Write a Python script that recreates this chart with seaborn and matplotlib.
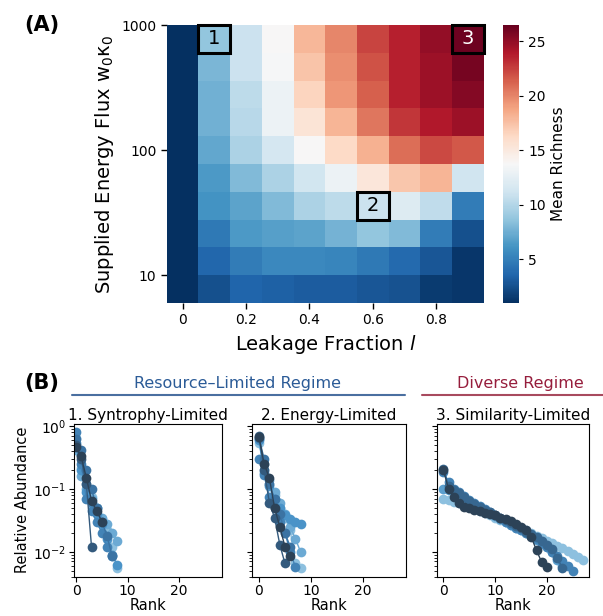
import numpy as np
import matplotlib
matplotlib.use("Agg")
import matplotlib.pyplot as plt
from matplotlib.patches import Rectangle
from matplotlib.lines import Line2D
import pandas as pd
import seaborn as sns

sns.set_style("ticks")
plt.rcParams['font.family'] = ['DejaVu Sans']
plt.rcParams['text.color'] = 'black'
plt.rcParams['axes.labelcolor'] = 'black'
plt.rcParams['xtick.color'] = 'black'
plt.rcParams['ytick.color'] = 'black'
plt.rcParams['axes.edgecolor'] = 'black'

##################################################################
# (A) mean richness over leakage fraction x supplied energy flux
leakage = [0.0, 0.1, 0.2, 0.3, 0.4, 0.5, 0.6, 0.7, 0.8, 0.9]
# row centres, top row first
flux = [774, 464, 278, 167, 100, 59.9, 35.9, 21.5, 12.9, 7.74]
richness = [
    [1, 8.7, 11.0, 13.8, 18.0, 20.0, 22.4, 23.7, 25.0, 26.3],
    [1, 7.9, 11.0, 13.6, 17.4, 19.7, 21.9, 23.7, 24.7, 26.0],
    [1, 7.6, 10.4, 13.0, 16.6, 19.4, 21.4, 23.7, 24.7, 25.5],
    [1, 7.6, 10.2, 13.0, 15.5, 18.1, 20.6, 22.9, 24.0, 24.7],
    [1, 7.1, 9.7, 11.5, 13.8, 16.3, 18.3, 20.9, 22.2, 21.7],
    [1, 6.4, 8.1, 9.7, 11.3, 13.0, 15.3, 17.3, 18.1, 11.2],
    [1, 6.1, 6.9, 8.1, 9.7, 10.4, 11.0, 12.0, 10.5, 4.8],
    [1, 4.6, 6.4, 6.7, 6.9, 7.7, 8.7, 8.1, 4.8, 2.5],
    [1, 3.6, 4.8, 5.5, 5.5, 5.3, 4.6, 3.8, 2.8, 1.3],
    [1, 2.5, 3.5, 3.3, 3.1, 3.1, 2.8, 2.6, 1.5, 1.3],
]
flux_ticks = [1000, 100, 10]
leak_ticks = [0.0, 0.2, 0.4, 0.6, 0.8]
leak_ticklabels = ['0', '0.2', '0.4', '0.6', '0.8']

# highlighted regimes: (label, flux row, leakage column)
regime_labels = ['1', '2', '3']
regime_rows = [0, 6, 0]
regime_cols = [1, 6, 9]
regime_text_colors = ['black', 'black', 'white']

# (B) rank abundance curves, darkest curve first
syntrophy_curves = [
    [0.47, 0.33, 0.15, 0.065, 0.045, 0.03],
    [0.5, 0.3, 0.12, 0.012],
    [0.62, 0.42, 0.2, 0.1, 0.05, 0.03, 0.018, 0.0085],
    [0.8, 0.25, 0.07, 0.045, 0.03, 0.02, 0.012, 0.009],
    [0.55, 0.2, 0.09, 0.06, 0.04, 0.028, 0.016, 0.0085, 0.0062],
    [0.42, 0.16, 0.1, 0.07, 0.05, 0.035, 0.028, 0.02, 0.015],
    [0.65, 0.22, 0.12, 0.075, 0.05, 0.033, 0.022, 0.012, 0.0055],
]
energy_curves = [
    [0.68, 0.25, 0.15, 0.05, 0.025, 0.012, 0.0085],
    [0.7, 0.2, 0.06, 0.035, 0.013, 0.0065],
    [0.65, 0.3, 0.12, 0.07, 0.04, 0.02, 0.012],
    [0.3, 0.17, 0.075, 0.05, 0.03, 0.02, 0.01, 0.0057],
    [0.6, 0.18, 0.11, 0.07, 0.05, 0.038, 0.033, 0.03, 0.028],
    [0.62, 0.25, 0.14, 0.09, 0.06, 0.04, 0.025, 0.016, 0.01],
    [0.55, 0.2, 0.12, 0.08, 0.05, 0.035, 0.022, 0.0065, 0.0055],
]
similarity_curves = [
    [0.2, 0.1, 0.075, 0.06, 0.052, 0.049, 0.047, 0.045, 0.042, 0.04, 0.038,
     0.035, 0.033, 0.031, 0.028, 0.025, 0.022, 0.017, 0.0105, 0.0068, 0.0058],
    [0.21, 0.11, 0.095, 0.085, 0.075, 0.065, 0.058, 0.052, 0.047, 0.043, 0.039,
     0.035, 0.032, 0.029, 0.026, 0.024, 0.021, 0.019, 0.017, 0.015, 0.013,
     0.011, 0.008, 0.0055],
    [0.19, 0.13, 0.1, 0.088, 0.078, 0.068, 0.06, 0.054, 0.048, 0.043, 0.038,
     0.034, 0.03, 0.027, 0.024, 0.022, 0.02, 0.018, 0.016, 0.014, 0.012,
     0.01, 0.0085, 0.007, 0.006, 0.005],
    [0.1, 0.095, 0.088, 0.08, 0.072, 0.064, 0.057, 0.051, 0.046, 0.041, 0.037,
     0.033, 0.03, 0.027, 0.024, 0.022, 0.02, 0.0175, 0.0155, 0.0135, 0.0118,
     0.0098, 0.0075, 0.006],
    [0.07, 0.066, 0.063, 0.06, 0.056, 0.052, 0.048, 0.045, 0.041, 0.038, 0.035,
     0.032, 0.03, 0.028, 0.026, 0.024, 0.022, 0.02, 0.018, 0.0165, 0.015,
     0.0138, 0.0125, 0.0113, 0.0102, 0.0092, 0.0083, 0.0075],
]
panel_titles = ['1. Syntrophy-Limited', '2. Energy-Limited', '3. Similarity-Limited']
##################################################################

fig = plt.figure(figsize=(6.03, 6.16), dpi=100)

#----------------------------------------------------------------------------------------
# (A) heatmap
ax = fig.add_axes([0.2765, 0.508, 0.526, 0.4513])
cax = fig.add_axes([0.8347, 0.508, 0.026, 0.4513])

df = pd.DataFrame(richness, index=flux, columns=leakage)
sns.heatmap(df, ax=ax, cmap='RdBu_r', vmin=1, vmax=26.5, cbar_ax=cax,
            xticklabels=False, yticklabels=False)

# tick positions in cell coordinates (log spaced rows)
centres = np.arange(len(flux)) + 0.5
fit = np.polyfit(np.log10(flux), centres, 1)
ax.set_yticks(np.polyval(fit, np.log10(flux_ticks)))
ax.set_yticklabels([str(t) for t in flux_ticks], rotation=0, fontsize=10)
fit_x = np.polyfit(leakage, np.arange(len(leakage)) + 0.5, 1)
ax.set_xticks(np.polyval(fit_x, leak_ticks))
ax.set_xticklabels(leak_ticklabels, rotation=0, fontsize=10)
ax.tick_params(length=4, width=1, color='black')
ax.set_xlabel('Leakage Fraction $l$', fontsize=14)
ax.set_ylabel('Supplied Energy Flux w$_0$κ$_0$', fontsize=14)

for lab, r, c, tc in zip(regime_labels, regime_rows, regime_cols, regime_text_colors):
    ax.add_patch(Rectangle((c, r), 1, 1, fill=False, ec='black', lw=2.2, clip_on=False))
    ax.text(c + 0.5, r + 0.5, lab, ha='center', va='center', fontsize=14, color=tc)

cax.set_ylabel('Mean Richness', fontsize=11)
cax.set_yticks([5, 10, 15, 20, 25])
cax.tick_params(labelsize=10, length=3)

fig.text(0.04, 0.96, '(A)', fontsize=15, fontweight='bold', ha='left', va='center')

#----------------------------------------------------------------------------------------
# (B) rank abundance panels
positions = [[0.1227, 0.0638, 0.2454, 0.2484],
             [0.4174, 0.0638, 0.2554, 0.2484],
             [0.7242, 0.0638, 0.2531, 0.2484]]
xlims = [(-0.4, 28.3), (-1.4, 28.2), (-1.3, 28.2)]
all_curves = [syntrophy_curves, energy_curves, similarity_curves]

for i, (pos, curves, title, xl) in enumerate(zip(positions, all_curves, panel_titles, xlims)):
    bax = fig.add_axes(pos)
    rows = []
    for k, ab in enumerate(curves):
        for rank, a in enumerate(ab):
            rows.append({'rank': rank, 'abundance': a, 'curve': k})
    d = pd.DataFrame(rows)
    n = len(curves)
    colors = sns.blend_palette(['#2c4257', '#3b73a3', '#4a93c8', '#8dc0df'], n)
    pal = {k: colors[k] for k in range(n)}
    # lightest curves underneath
    sns.lineplot(data=d, x='rank', y='abundance', hue='curve', units='curve',
                 hue_order=list(range(n))[::-1], estimator=None, palette=pal,
                 marker='o', markersize=7, markeredgewidth=0, lw=1,
                 legend=False, ax=bax)
    bax.set_yscale('log')
    bax.set_ylim(0.004, 1.1)
    bax.set_xlim(*xl)
    bax.set_xticks([0, 10, 20])
    bax.tick_params(labelsize=10, pad=2)
    bax.set_xlabel('Rank', fontsize=10.5, labelpad=0)
    bax.set_title(title, fontsize=11, pad=3)
    if i == 0:
        bax.set_ylabel('Relative Abundance', fontsize=10.5, labelpad=2)
    else:
        bax.set_ylabel('')
        bax.tick_params(axis='y', which='both', labelleft=False)

fig.text(0.04, 0.378, '(B)', fontsize=15, fontweight='bold', ha='left', va='center')

# regime headers
blue = '#2b5b97'
red = '#961d3c'
fig.text(238 / 603, 0.378, 'Resource\u2013Limited Regime', color=blue, fontsize=11.5,
         ha='center', va='center')
fig.add_artist(Line2D([71.7 / 603, 405 / 603], [0.3588, 0.3588], color='#4a6fa0', lw=1.5))
fig.text(520 / 603, 0.378, 'Diverse Regime', color=red, fontsize=11.5,
         ha='center', va='center')
fig.add_artist(Line2D([421.7 / 603, 1.0], [0.3588, 0.3588], color='#a84a5e', lw=1.5))

fig.savefig('out.png', dpi=100)
